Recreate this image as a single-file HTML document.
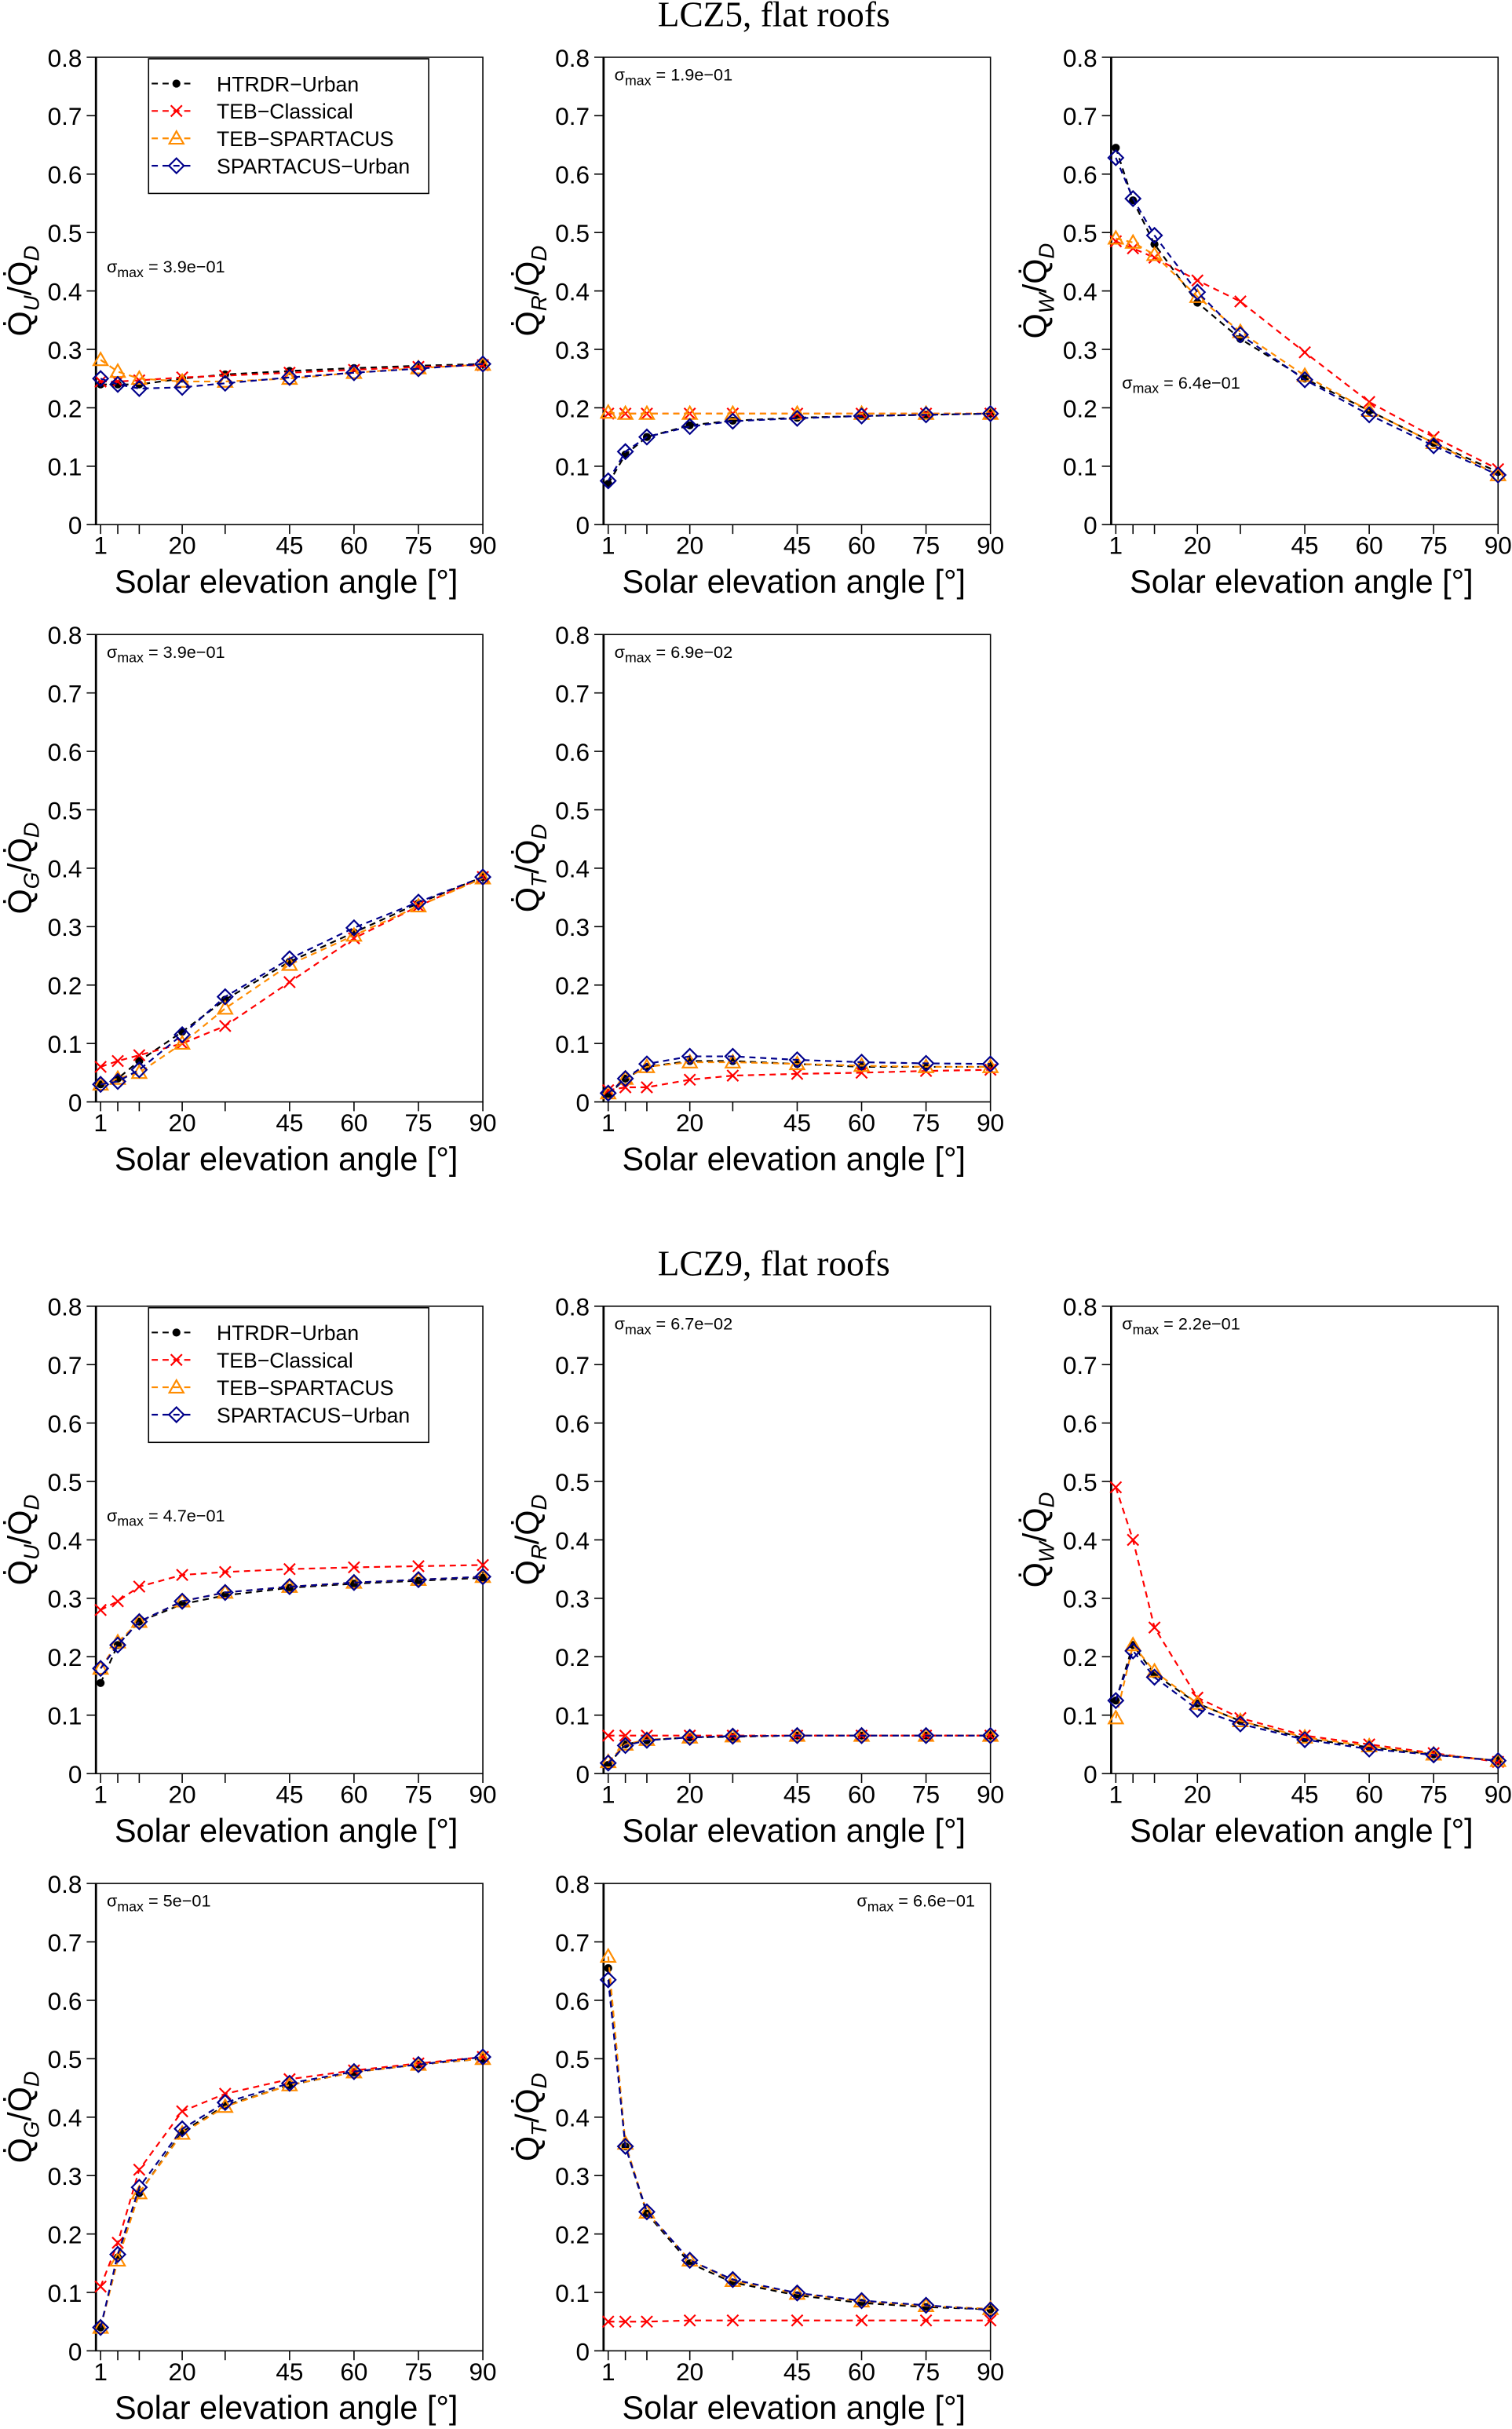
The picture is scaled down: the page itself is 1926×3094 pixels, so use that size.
<!DOCTYPE html>
<html><head><meta charset="utf-8">
<style>
html,body{margin:0;padding:0;background:#fff;}
svg{display:block;font-family:"Liberation Sans",sans-serif;}
</style></head>
<body>
<svg id="fig" width="1926" height="3094" viewBox="0 0 977 1569.5" xmlns="http://www.w3.org/2000/svg">
<text x="500" y="17" text-anchor="middle" font-family="Liberation Serif, serif" font-size="23">LCZ5, flat roofs</text>
<text x="500" y="824" text-anchor="middle" font-family="Liberation Serif, serif" font-size="23">LCZ9, flat roofs</text>
</svg>
<script>
const angles = [1,5,10,20,30,45,60,75,90];
const xTicks = [1,5,10,20,30,45,60,75,90];
const xTickLabels = ["1","","","20","","45","60","75","90"];
const yTicks = [0,0.1,0.2,0.3,0.4,0.5,0.6,0.7,0.8];
const yTickLabels = ["0","0.1","0.2","0.3","0.4","0.5","0.6","0.7","0.8"];
const seriesNames = ["HTRDR\u2212Urban","TEB\u2212Classical","TEB\u2212SPARTACUS","SPARTACUS\u2212Urban"];

// LCZ5
const lcz5_qu_htrdr = [0.24,0.24,0.24,0.25,0.257,0.263,0.268,0.272,0.275];
const lcz5_qu_tebc  = [0.245,0.245,0.247,0.252,0.255,0.26,0.265,0.27,0.273];
const lcz5_qu_tebs  = [0.282,0.262,0.25,0.245,0.245,0.25,0.26,0.268,0.274];
const lcz5_qu_spart = [0.25,0.24,0.233,0.235,0.242,0.252,0.26,0.267,0.275];

const lcz5_qr_htrdr = [0.07,0.12,0.15,0.17,0.178,0.183,0.186,0.188,0.19];
const lcz5_qr_tebc  = [0.19,0.19,0.19,0.19,0.19,0.19,0.19,0.19,0.19];
const lcz5_qr_tebs  = [0.192,0.19,0.19,0.19,0.19,0.19,0.19,0.19,0.19];
const lcz5_qr_spart = [0.075,0.125,0.15,0.168,0.177,0.182,0.186,0.188,0.19];

const lcz5_qw_htrdr = [0.645,0.555,0.48,0.38,0.318,0.25,0.195,0.14,0.09];
const lcz5_qw_tebc  = [0.485,0.473,0.457,0.418,0.382,0.295,0.21,0.15,0.095];
const lcz5_qw_tebs  = [0.49,0.483,0.462,0.39,0.33,0.255,0.195,0.14,0.085];
const lcz5_qw_spart = [0.628,0.558,0.495,0.398,0.325,0.248,0.188,0.135,0.085];

const lcz5_qg_htrdr = [0.03,0.04,0.07,0.12,0.175,0.24,0.29,0.34,0.385];
const lcz5_qg_tebc  = [0.06,0.07,0.08,0.10,0.13,0.205,0.28,0.335,0.385];
const lcz5_qg_tebs  = [0.03,0.04,0.05,0.10,0.16,0.235,0.285,0.335,0.383];
const lcz5_qg_spart = [0.03,0.035,0.055,0.115,0.18,0.245,0.298,0.342,0.385];

const lcz5_qt_htrdr = [0.012,0.04,0.06,0.07,0.07,0.065,0.06,0.06,0.06];
const lcz5_qt_tebc  = [0.02,0.025,0.025,0.038,0.045,0.048,0.05,0.053,0.055];
const lcz5_qt_tebs  = [0.015,0.04,0.06,0.068,0.068,0.065,0.062,0.06,0.06];
const lcz5_qt_spart = [0.015,0.04,0.065,0.078,0.078,0.072,0.068,0.066,0.065];

// LCZ9
const lcz9_qu_htrdr = [0.155,0.22,0.26,0.29,0.305,0.318,0.325,0.33,0.335];
const lcz9_qu_tebc  = [0.28,0.295,0.32,0.34,0.345,0.35,0.353,0.355,0.357];
const lcz9_qu_tebs  = [0.18,0.225,0.26,0.295,0.31,0.32,0.327,0.332,0.337];
const lcz9_qu_spart = [0.18,0.22,0.26,0.295,0.31,0.32,0.327,0.332,0.337];

const lcz9_qr_htrdr = [0.015,0.05,0.057,0.062,0.063,0.065,0.065,0.065,0.065];
const lcz9_qr_tebc  = [0.065,0.065,0.065,0.065,0.065,0.065,0.065,0.065,0.065];
const lcz9_qr_tebs  = [0.02,0.05,0.058,0.062,0.064,0.065,0.065,0.065,0.065];
const lcz9_qr_spart = [0.018,0.048,0.057,0.062,0.064,0.065,0.065,0.065,0.065];

const lcz9_qw_htrdr = [0.125,0.22,0.17,0.12,0.09,0.06,0.045,0.033,0.022];
const lcz9_qw_tebc  = [0.49,0.40,0.25,0.13,0.095,0.065,0.05,0.035,0.02];
const lcz9_qw_tebs  = [0.095,0.22,0.175,0.12,0.09,0.062,0.047,0.033,0.022];
const lcz9_qw_spart = [0.125,0.21,0.165,0.11,0.085,0.058,0.042,0.032,0.022];

const lcz9_qg_htrdr = [0.04,0.16,0.27,0.375,0.42,0.455,0.477,0.49,0.5];
const lcz9_qg_tebc  = [0.11,0.185,0.31,0.41,0.44,0.465,0.48,0.492,0.503];
const lcz9_qg_tebs  = [0.04,0.155,0.27,0.372,0.418,0.455,0.477,0.49,0.5];
const lcz9_qg_spart = [0.04,0.165,0.28,0.38,0.425,0.458,0.478,0.49,0.503];

const lcz9_qt_htrdr = [0.655,0.35,0.235,0.15,0.117,0.095,0.082,0.075,0.071];
const lcz9_qt_tebc  = [0.05,0.05,0.05,0.052,0.052,0.052,0.052,0.052,0.052];
const lcz9_qt_tebs  = [0.675,0.355,0.237,0.155,0.12,0.098,0.085,0.077,0.072];
const lcz9_qt_spart = [0.635,0.35,0.238,0.155,0.122,0.099,0.086,0.078,0.07];

const sigmaLabels = ["3.9e\u221201","1.9e\u221201","6.4e\u221201","3.9e\u221201","6.9e\u221202","4.7e\u221201","6.7e\u221202","2.2e\u221201","5e\u221201","6.6e\u221201"];

const NS = "http://www.w3.org/2000/svg";
const svg = document.getElementById('fig');
const colors = ["#000000","#ff0000","#ff8c00","#00008b"];
function mk(tag, attrs, parent){ const e=document.createElementNS(NS,tag); for(const k in attrs) e.setAttribute(k,attrs[k]); (parent||svg).appendChild(e); return e; }

const panels = [
 {id:"lcz5-qu", L:62, B:339, sub:"U", data:[lcz5_qu_htrdr,lcz5_qu_tebc,lcz5_qu_tebs,lcz5_qu_spart], s:0, sx:69, sy:176, anchor:"start", legend:true},
 {id:"lcz5-qr", L:390, B:339, sub:"R", data:[lcz5_qr_htrdr,lcz5_qr_tebc,lcz5_qr_tebs,lcz5_qr_spart], s:1, sx:397, sy:52, anchor:"start"},
 {id:"lcz5-qw", L:718, B:339, sub:"W", data:[lcz5_qw_htrdr,lcz5_qw_tebc,lcz5_qw_tebs,lcz5_qw_spart], s:2, sx:725, sy:251, anchor:"start"},
 {id:"lcz5-qg", L:62, B:712, sub:"G", data:[lcz5_qg_htrdr,lcz5_qg_tebc,lcz5_qg_tebs,lcz5_qg_spart], s:3, sx:69, sy:425, anchor:"start"},
 {id:"lcz5-qt", L:390, B:712, sub:"T", data:[lcz5_qt_htrdr,lcz5_qt_tebc,lcz5_qt_tebs,lcz5_qt_spart], s:4, sx:397, sy:425, anchor:"start"},
 {id:"lcz9-qu", L:62, B:1146, sub:"U", data:[lcz9_qu_htrdr,lcz9_qu_tebc,lcz9_qu_tebs,lcz9_qu_spart], s:5, sx:69, sy:983, anchor:"start", legend:true},
 {id:"lcz9-qr", L:390, B:1146, sub:"R", data:[lcz9_qr_htrdr,lcz9_qr_tebc,lcz9_qr_tebs,lcz9_qr_spart], s:6, sx:397, sy:859, anchor:"start"},
 {id:"lcz9-qw", L:718, B:1146, sub:"W", data:[lcz9_qw_htrdr,lcz9_qw_tebc,lcz9_qw_tebs,lcz9_qw_spart], s:7, sx:725, sy:859, anchor:"start"},
 {id:"lcz9-qg", L:62, B:1519, sub:"G", data:[lcz9_qg_htrdr,lcz9_qg_tebc,lcz9_qg_tebs,lcz9_qg_spart], s:8, sx:69, sy:1232, anchor:"start"},
 {id:"lcz9-qt", L:390, B:1519, sub:"T", data:[lcz9_qt_htrdr,lcz9_qt_tebc,lcz9_qt_tebs,lcz9_qt_spart], s:9, sx:630, sy:1232, anchor:"end"}
];

function marker(g, k, x, y){
  const c = colors[k];
  if(k===0){ const m=mk('circle',{cx:x,cy:y,r:2.6,fill:c},g);
    
     }
  else if(k===1){ const d=3.6; const m=mk('path',{d:`M${x-d},${y-d}L${x+d},${y+d}M${x-d},${y+d}L${x+d},${y-d}`,stroke:c,'stroke-width':1.1,fill:'none'},g);
    
     }
  else if(k===2){ const d=4.6; const m=mk('path',{d:`M${x},${y-d}L${x+d},${y+d*0.75}L${x-d},${y+d*0.75}Z`,stroke:c,'stroke-width':1.1,fill:'none'},g);
    
     }
  else { const d=4.8; const m=mk('path',{d:`M${x},${y-d}L${x+d},${y}L${x},${y+d}L${x-d},${y}Z`,stroke:c,'stroke-width':1.1,fill:'none'},g);
    
     }
}

panels.forEach(p=>{
  const W=250, H=302, T=p.B-H;
  const xs = v => p.L+3+(v-1)*(W-3)/89;
  const ys = v => p.B - v/0.8*H;
  const g = mk('g',{});
  
  
  const box = mk('rect',{x:p.L,y:T,width:W,height:H,fill:'none',stroke:'#000','stroke-width':0.8},g);
  
  
  const ax = mk('line',{x1:p.L,y1:T,x2:p.L,y2:p.B,stroke:'#000','stroke-width':1.4},g);
  
  
  yTicks.forEach((v,i)=>{
    mk('line',{x1:p.L-6,y1:ys(v),x2:p.L,y2:ys(v),stroke:'#000','stroke-width':0.8},g);
    const t=mk('text',{x:p.L-9,y:ys(v)+6,'text-anchor':'end','font-size':16},g);
    
    
    t.textContent=yTickLabels[i];
  });
  xTicks.forEach((v,i)=>{
    mk('line',{x1:xs(v),y1:p.B,x2:xs(v),y2:p.B+6,stroke:'#000','stroke-width':0.8},g);
    if(xTickLabels[i]){
      const t=mk('text',{x:xs(v),y:p.B+19,'text-anchor':'middle','font-size':16},g);
      
      
      t.textContent=xTickLabels[i];
    }
  });
  const xl=mk('text',{x:p.L+123,y:p.B+44,'text-anchor':'middle','font-size':21},g);
  
  
  xl.textContent='Solar elevation angle [\u00B0]';
  const yc=T+H/2;
  const yl=mk('text',{x:0,y:0,'text-anchor':'middle','font-size':21,transform:`translate(${p.L-42},${yc}) rotate(-90)`},g);
  
  
  yl.innerHTML=`Q\u0307<tspan font-style="italic" font-size="14" dy="5">${p.sub}</tspan><tspan dy="-5">/Q\u0307</tspan><tspan font-style="italic" font-size="14" dy="5">D</tspan>`;
  p.data.forEach((vals,k)=>{
    const pts = angles.map((a,i)=>xs(a)+','+ys(vals[i])).join(' ');
    const ln=mk('polyline',{points:pts,fill:'none',stroke:colors[k],'stroke-width':1.1,'stroke-dasharray':'4,3'},g);
    
    
    angles.forEach((a,i)=>marker(g,k,xs(a),ys(vals[i])));
  });
  const st=mk('text',{x:p.sx,y:p.sy,'text-anchor':p.anchor,'font-size':11},g);
  
  
  st.innerHTML=`\u03C3<tspan font-size="9" dy="3">max</tspan><tspan dy="-3"> = ${sigmaLabels[p.s]}</tspan>`;
  if(p.legend){
    const lg=mk('g',{},g);
    
    
    mk('rect',{x:p.L+34,y:T+1,width:181,height:87,fill:'#fff',stroke:'#000','stroke-width':0.8},lg);
    seriesNames.forEach((n,k)=>{
      const yy=T+17+k*17.7;
      const e=mk('g',{},lg);
      
      
      mk('line',{x1:p.L+36,y1:yy,x2:p.L+64,y2:yy,stroke:colors[k],'stroke-width':1.1,'stroke-dasharray':'4,3'},e);
      marker(e,k,p.L+52,yy);
      const t=mk('text',{x:p.L+78,y:yy+5,'font-size':13.5},e);
      t.textContent=n;
    });
  }
});
</script>
</body></html>
